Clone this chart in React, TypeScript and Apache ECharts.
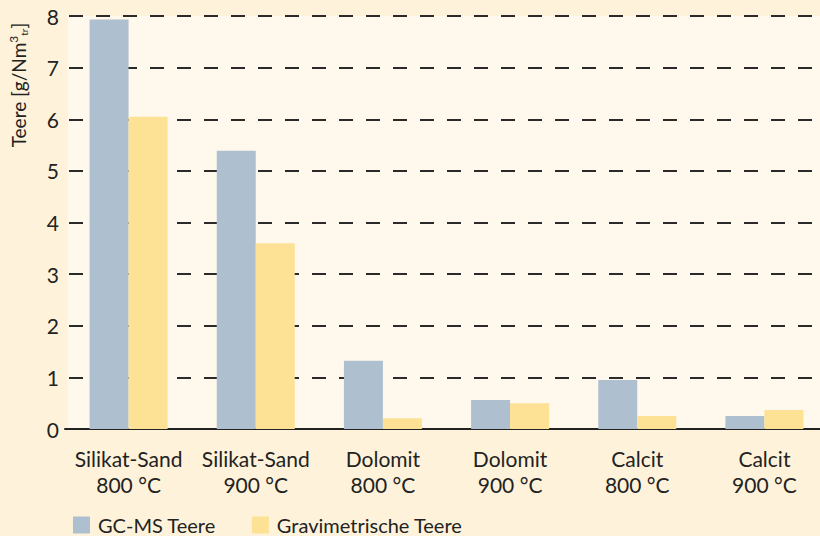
import React, { useEffect, useRef } from "react";
import * as echarts from "echarts";

const categories = [
  "Silikat-Sand\n800 °C",
  "Silikat-Sand\n900 °C",
  "Dolomit\n800 °C",
  "Dolomit\n900 °C",
  "Calcit\n800 °C",
  "Calcit\n900 °C",
];
const gcmsValues = [7.93, 5.39, 1.32, 0.56, 0.95, 0.25];
const gravValues = [6.05, 3.6, 0.21, 0.5, 0.25, 0.37];
const seriesNames = ["GC-MS Teere", "Gravimetrische Teere"];

const FONT = "Lato";

export default function App() {
  const ref = useRef<HTMLDivElement>(null);
  useEffect(() => {
    const chart = echarts.init(ref.current!, null, { renderer: "svg" });
    chart.setOption({
      animation: false,
      backgroundColor: "#fef3da",
      textStyle: { fontFamily: FONT },
      grid: {
        left: 65,
        width: 763,
        top: 16,
        height: 413,
        show: false,
        outerBoundsMode: "none",
        containLabel: false,
      },
      legend: {
        left: 68,
        top: 510,
        itemWidth: 17,
        itemHeight: 17,
        itemGap: 36,
        icon: "rect",
        textStyle: {
          fontFamily: FONT,
          fontSize: 20,
          lineHeight: 20,
          color: "#222",
          padding: [0, 0, 0, 3],
        },
        data: seriesNames,
      },
      xAxis: {
        type: "category",
        data: categories,
        axisLine: { show: true, lineStyle: { color: "#222", width: 2 } },
        axisTick: { show: false },
        axisLabel: {
          fontFamily: FONT,
          fontSize: 21,
          lineHeight: 26,
          color: "#222",
          margin: 16,
          interval: 0,
        },
      },
      yAxis: {
        type: "value",
        min: 0,
        max: 8,
        interval: 1,
        axisLine: { show: false },
        axisTick: { show: false },
        axisLabel: {
          fontFamily: FONT,
          fontSize: 21,
          color: "#222",
          margin: 6,
        },
        splitLine: {
          show: true,
          lineStyle: { color: "#2a2a2a", width: 2, type: [14, 13], dashOffset: 23 },
        },
      },
      graphic: [
        {
          type: "rect",
          z: -1,
          silent: true,
          shape: { x: 68, y: 16, width: 752, height: 413 },
          style: { fill: "#fff8ed" },
        },
        {
          type: "text",
          x: 18,
          y: 85,
          rotation: Math.PI / 2,
          style: {
            text: "Teere [g/Nm{sup|3}{sub|tr}]",
            fontFamily: FONT,
            fontSize: 19,
            fill: "#222",
            align: "center",
            verticalAlign: "middle",
            rich: {
              sup: { fontSize: 12, verticalAlign: "top", padding: [0, 0, 9, 0], fill: "#222", fontFamily: FONT },
              sub: { fontSize: 10, verticalAlign: "bottom", padding: [9, 0, 0, 0], fill: "#222", fontFamily: FONT },
            },
          },
        },
      ],
      series: [
        {
          name: seriesNames[0],
          type: "bar",
          data: gcmsValues,
          itemStyle: { color: "#aebfcf" },
          barWidth: 39,
          barGap: "0%",
        },
        {
          name: seriesNames[1],
          type: "bar",
          data: gravValues,
          itemStyle: { color: "#fde194" },
          barWidth: 39,
          barGap: "0%",
        },
      ],
    });
    return () => chart.dispose();
  }, []);
  return <div ref={ref} style={{ width: 820, height: 536, position: "fixed", left: 0, top: 0 }} />;
}
